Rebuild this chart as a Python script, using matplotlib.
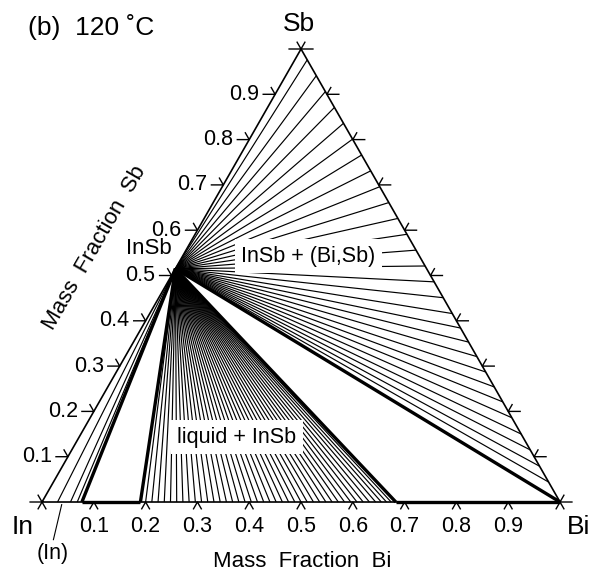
import numpy as np
import matplotlib.pyplot as plt

plt.rcParams['font.family'] = ['Liberation Sans', 'DejaVu Sans']

R3 = np.sqrt(3) / 2

# composition of InSb on the In-Sb side (mass fraction Sb)
insb_sb = 0.515

# tie line ends on the In-Bi side (mass fraction Bi)
in_ties = [0.030, 0.055, 0.068]
tri_left = [0.077, 0.190]
liquid_ties = [0.200, 0.212, 0.224, 0.236, 0.248, 0.260, 0.272, 0.284, 0.296,
               0.308, 0.320, 0.332, 0.344, 0.356, 0.368, 0.380, 0.392, 0.404,
               0.416, 0.428, 0.440, 0.452, 0.464, 0.476, 0.488, 0.500, 0.512,
               0.524, 0.536, 0.548, 0.560, 0.572, 0.584, 0.596, 0.608, 0.620,
               0.632, 0.644, 0.655, 0.665, 0.674]
tri_right = [0.683, 1.0]

# tie line ends on the Bi-Sb side (mass fraction Sb)
bisb_ties = [0.976, 0.941, 0.906, 0.871, 0.836, 0.801, 0.766, 0.731, 0.696,
             0.661, 0.626, 0.591, 0.556, 0.521, 0.486, 0.451, 0.416, 0.384,
             0.353, 0.321, 0.287, 0.254, 0.221, 0.186, 0.150, 0.115, 0.079,
             0.044]

ticks = [0.1, 0.2, 0.3, 0.4, 0.5, 0.6, 0.7, 0.8, 0.9]
tick_labels = ['0.1', '0.2', '0.3', '0.4', '0.5', '0.6', '0.7', '0.8', '0.9']


def xy(bi, sb):
    return bi + sb / 2, sb * R3


fig = plt.figure(figsize=(5.91, 5.71), dpi=100)
ax = fig.add_axes([0, 0, 1, 1])
ax.set_xlim(-0.0811, 1.0598)
ax.set_ylim(-0.1319, 0.9597)
ax.axis('off')

p0 = xy(0, insb_sb)
thin = dict(color='black', lw=0.85, solid_capstyle='butt')
thick = dict(color='black', lw=2.4, solid_capstyle='butt')

# triangle
ax.plot([0, 1, 0.5, 0], [0, 0, R3, 0], color='black', lw=1.2)

# (In) + InSb
for b in in_ties:
    ax.plot([p0[0], b], [p0[1], 0], **thin)
# three phase triangle on the In side
ax.plot([p0[0], tri_left[0]], [p0[1], 0], **thick)
ax.plot([p0[0], tri_left[1]], [p0[1], 0], **thick)
ax.plot(tri_left, [0, 0], **thick)
# liquid + InSb
for b in liquid_ties:
    ax.plot([p0[0], b], [p0[1], 0], **thin)
# liquid + InSb + (Bi)
ax.plot([p0[0], tri_right[0]], [p0[1], 0], **thick)
ax.plot([p0[0], tri_right[1]], [p0[1], 0], **thick)
ax.plot(tri_right, [0, 0], **thick)
# InSb + (Bi,Sb)
for s in bisb_ties:
    e = xy(1 - s, s)
    ax.plot([p0[0], e[0]], [p0[1], e[1]], **thin)

# ternary ticks
lh = 0.023
ld = 0.015
tk = dict(color='black', lw=1.0)
for v in [0] + ticks + [1]:
    # bottom (Bi)
    x, y = xy(v, 0)
    ax.plot([x - 0.5 * ld, x, x + 0.5 * ld], [y - R3 * ld, y, y - R3 * ld], **tk)
    # left (Sb)
    x, y = xy(0, v)
    ax.plot([x - lh, x, x - 0.5 * ld], [y, y, y + R3 * ld], **tk)
    # right (Sb)
    x, y = xy(1 - v, v)
    ax.plot([x + lh, x, x + 0.5 * ld], [y, y, y + R3 * ld], **tk)

fs = 15.5
for v, t in zip(ticks, tick_labels):
    x, y = xy(v, 0)
    ax.text(x, y - 0.046, t, ha='center', va='center', fontsize=fs)
    x, y = xy(0, v)
    ax.text(x - 0.031, y, t, ha='right', va='center', fontsize=fs)

ax.text(-0.027, 0.908, '(b)  120 ˚C', ha='left', va='center', fontsize=19)
ax.text(0.496, 0.913, 'Sb', ha='center', va='center', fontsize=19)
ax.text(-0.037, -0.047, 'In', ha='center', va='center', fontsize=19)
ax.text(1.013, -0.047, 'Bi', ha='left', va='center', fontsize=19)
ax.text(0.021, -0.098, '(In)', ha='center', va='center', fontsize=fs)
ax.plot([0.038, 0.022], [-0.005, -0.072], color='black', lw=0.8)
ax.text(0.502, -0.113, 'Mass  Fraction  Bi', ha='center', va='center', fontsize=16)
ax.text(0.102, 0.486, 'Mass  Fraction  Sb', ha='center', va='center',
        fontsize=16, rotation=60, rotation_mode='anchor')
ax.text(0.207, 0.484, 'InSb', ha='center', va='center', fontsize=16)

box = dict(boxstyle='square,pad=0.3', facecolor='white', edgecolor='none')
ax.text(0.5145, 0.470, 'InSb + (Bi,Sb)', ha='center', va='center',
        fontsize=fs, bbox=box, zorder=5)
ax.text(0.3755, 0.124, 'liquid + InSb', ha='center', va='center',
        fontsize=fs, bbox=box, zorder=5)

fig.savefig('out.png', dpi=100)
